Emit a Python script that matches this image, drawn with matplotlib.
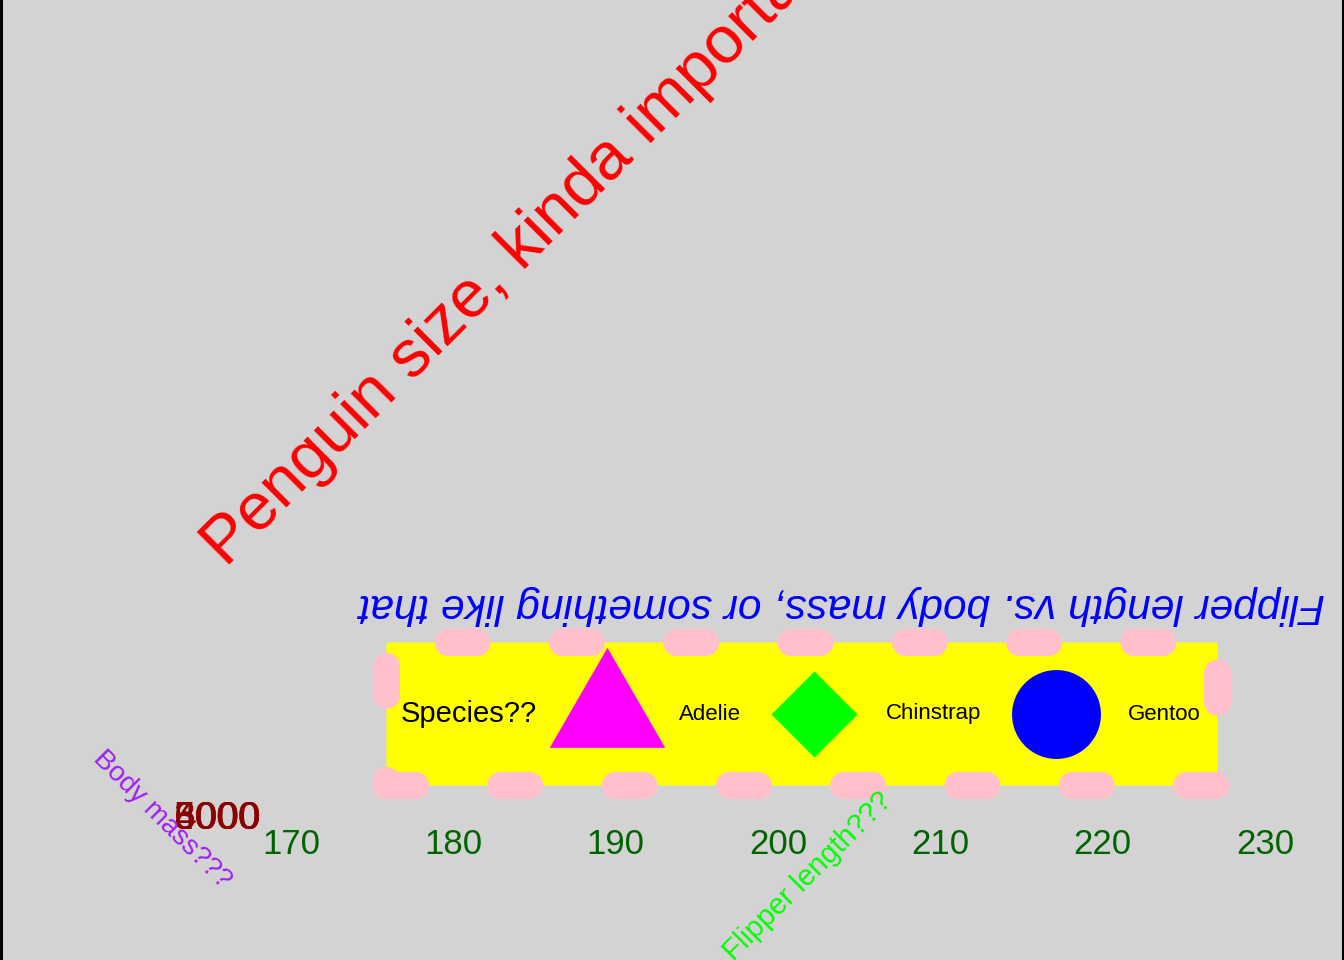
import matplotlib
matplotlib.use("Agg")
import matplotlib.pyplot as plt
from matplotlib.lines import Line2D
from matplotlib.patches import Rectangle

plt.rcParams['font.family'] = ['Liberation Sans', 'DejaVu Sans']

# data
x_ticks = [170, 180, 190, 200, 210, 220, 230]
y_ticks = [3000, 4000, 5000, 6000]
x_range = [172, 231]      # flipper length range
y_range = [2700, 6300]    # body mass range
species = ['Adelie', 'Chinstrap', 'Gentoo']
sp_colors = ['#FF00FF', '#00FF00', '#0000FF']
sp_markers = [(3, 0, 0), (4, 0, 0), 'o']
sp_sizes = [96, 62, 64]

W, H = 1344, 960
fig = plt.figure(figsize=(W / 100, H / 100), dpi=100)
fig.patch.set_facecolor('#D3D3D3')

# border of the plot background (only sides show)
fig.add_artist(Line2D([1 / W, 1 / W], [0, 1], color='black', lw=2.2))
fig.add_artist(Line2D([1 - 1.5 / W, 1 - 1.5 / W], [0, 1], color='black', lw=2.2))

def ex(r):
    d = (r[1] - r[0]) * 0.05
    return r[0] - d, r[1] + d

# collapsed panel
xl = ex(x_range)
px_per = 16.23
left_px = 291 - (170 - xl[0]) * px_per
right_px = 1265 + (xl[1] - 230) * px_per
panel_y = 815
ax = fig.add_axes([left_px / W, 1 - panel_y / H, (right_px - left_px) / W, 0.0001])
ax.set_facecolor('none')
ax.set_xlim(*xl)
ax.set_ylim(*ex(y_range))
ax.set_xticks(x_ticks)
ax.set_yticks(y_ticks)
for s in ax.spines.values():
    s.set_visible(False)
ax.tick_params(axis='x', length=0, pad=9, labelsize=25, labelcolor='#006400')
ax.tick_params(axis='y', length=0, pad=11, labelsize=28, labelcolor='#8B0000')

# axis titles
fig.text(162 / W, 1 - 820 / H, 'Body mass???', rotation=-45, color='#A020F0',
         fontsize=20, ha='center', va='center')
fig.text(808 / W, 1 - 876 / H, 'Flipper length???', rotation=45, color='#00FF00',
         fontsize=21, ha='center', va='center')

# title and subtitle
fig.text(226 / W, 1 - 568 / H, 'Penguin size, kinda important', rotation=45,
         rotation_mode='anchor', ha='left', va='baseline', color='red', fontsize=48)
fig.text(1325 / W, 1 - 605 / H, 'Flipper length vs. body mass, or something like that',
         rotation=180, ha='right', va='center', color='blue', fontsize=30.5,
         style='italic')

# legend
lax = fig.add_axes([0, 0, 1, 1], zorder=3)
lax.set_xlim(0, W)
lax.set_ylim(H, 0)
lax.axis('off')
lax.patch.set_visible(False)

lx0, ly0, lx1, ly1 = 386, 642, 1217, 785
box = Rectangle((lx0, ly1), lx1 - lx0, ly0 - ly1,
                facecolor='yellow', edgecolor='pink',
                linewidth=19.5, linestyle=(0, (1.07, 3.15)),
                capstyle='round', joinstyle='round', clip_on=False, zorder=1)
lax.add_patch(box)

lax.text(401, 714, 'Species??', fontsize=21, ha='left', va='center', zorder=3)
key_x = [607, 814, 1056]
lab_x = [679, 886, 1128]
for i, sp in enumerate(species):
    lax.plot(key_x[i], 714, marker=sp_markers[i], markersize=sp_sizes[i],
             color=sp_colors[i], markeredgewidth=0, linestyle='none', zorder=3)
    lax.text(lab_x[i], 714, sp, fontsize=16, ha='left', va='center', zorder=3)

fig.savefig('out.png', dpi=100, facecolor=fig.get_facecolor())
